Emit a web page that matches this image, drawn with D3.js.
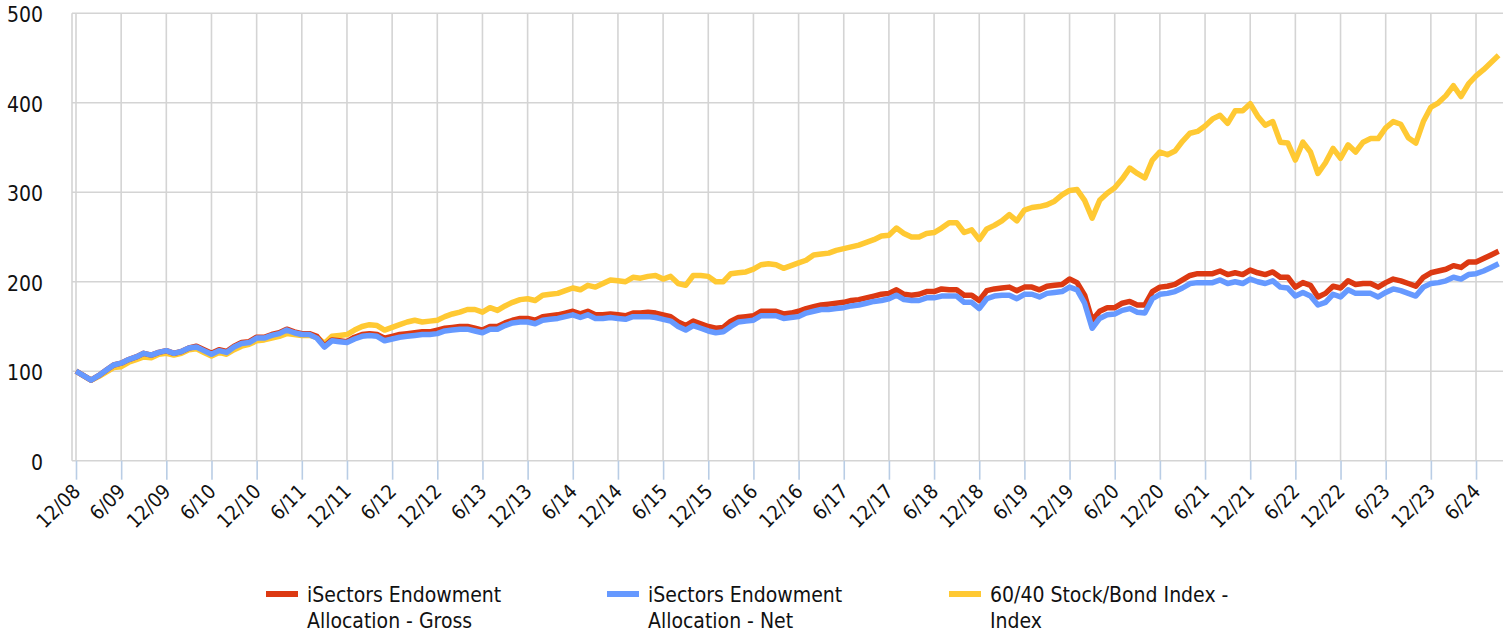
<!DOCTYPE html>
<html>
<head>
<meta charset="utf-8">
<script src="https://cdn.jsdelivr.net/npm/d3@7"></script>
<style>
  html, body { margin: 0; padding: 0; background: #fff; }
  svg { display: block; }
  text { font-family: "DejaVu Sans Condensed", "DejaVu Sans", sans-serif; fill: #111; }
</style>
</head>
<body>
<svg id="chart" width="1510" height="633"></svg>
<script>
// ---- DATA ----
const startMonth = "12/08";
const tickLabels = ["12/08","6/09","12/09","6/10","12/10","6/11","12/11","6/12","12/12","6/13",
  "12/13","6/14","12/14","6/15","12/15","6/16","12/16","6/17","12/17","6/18","12/18","6/19",
  "12/19","6/20","12/20","6/21","12/21","6/22","12/22","6/23","12/23","6/24"];
const yTicks = [0, 100, 200, 300, 400, 500];

const seriesNames = [
  ["iSectors Endowment", "Allocation - Gross"],
  ["iSectors Endowment", "Allocation - Net"],
  ["60/40 Stock/Bond Index -", "Index"]
];

const gross = [100,95,90,95,101,107,109,113,116,120,118,121,123,120,122,126,128,124,120,124,
  122,128,132,133,138,138,141,143,147,144,142,142,139,128,135,134,133,138,141,142,
  141,137,139,141,142,143,144,144,146,148,149,150,150,148,146,150,150,154,157,159,
  159,157,161,162,163,165,167,164,167,163,163,164,163,162,165,165,166,165,163,161,
  155,151,156,153,150,148,149,156,160,161,162,167,167,167,164,165,167,170,172,174,
  175,176,177,179,180,182,184,186,187,191,186,185,186,189,189,192,191,191,185,185,
  179,190,192,193,194,190,194,194,191,195,196,197,203,199,185,157,167,171,171,176,
  178,174,174,189,194,195,197,202,207,209,209,209,212,208,210,208,213,210,208,211,
  205,205,194,199,196,183,187,195,193,201,197,198,198,194,199,203,201,198,195,205,
  210,212,214,218,216,222,222,226,230,234];

const net = [100,95,90,95,101,107,109,113,116,120,118,121,123,120,122,126,127,123,119,123,
  121,127,131,132,137,137,140,142,146,143,141,141,137,127,134,133,132,136,139,140,
  139,134,136,138,139,140,141,141,142,145,146,147,147,145,143,147,147,151,154,155,
  155,153,157,158,159,161,163,160,163,159,159,160,159,158,161,161,161,160,158,156,
  150,146,151,148,145,143,144,150,155,156,157,162,162,162,159,160,161,165,167,169,
  169,170,171,173,174,176,178,179,181,185,180,179,179,182,182,184,184,184,177,177,
  170,181,184,185,185,181,186,186,183,187,188,189,194,191,176,148,159,163,164,168,
  170,166,165,181,186,187,189,193,198,199,199,199,202,198,200,198,203,200,198,201,
  194,193,184,188,184,174,177,186,183,191,187,187,187,183,188,192,190,187,184,194,
  198,199,201,205,203,208,209,212,216,220];

const index6040 = [100,95,90,94,99,104,105,110,113,116,115,119,120,118,120,124,125,121,117,121,
  119,124,128,130,134,135,137,139,142,141,140,140,138,131,139,140,141,146,150,152,
  151,146,149,152,155,157,155,156,157,161,164,166,169,169,166,171,168,173,177,180,
  181,179,185,186,187,190,193,191,196,194,198,202,201,200,205,204,206,207,203,206,
  198,196,207,207,206,200,200,209,210,211,214,219,220,219,215,218,221,224,230,231,
  232,235,237,239,241,244,247,251,252,260,254,250,250,254,255,260,266,266,255,258,
  247,259,263,268,275,268,280,283,284,286,290,297,302,303,291,271,291,299,305,315,
  327,321,316,336,345,342,346,357,366,368,374,382,386,377,391,391,399,385,375,379,
  356,355,336,356,345,321,333,349,338,353,345,356,360,360,372,379,376,361,355,379,
  395,400,408,419,407,421,430,437,445,453];

const colors = ["#dc3912", "#6699ff", "#ffc933"];

// ---- CHART ----
const svg = d3.select("#chart");
const plotLeft = 72, plotRight = 1503, plotTop = 13.3, plotBottom = 460.7;

// month categories from the start month
const parseM = d3.utcParse("%m/%y");
const fmtM = d3.utcFormat("%-m/%y");
const months = d3.range(gross.length).map(i => fmtM(d3.utcMonth.offset(parseM(startMonth), i)));

const x = d3.scaleLinear().domain([0, months.length - 1]).range([76, 76 + 7.527 * (months.length - 1)]);
const y = d3.scaleLinear().domain([0, 500]).range([plotBottom, plotTop]);

const gridColor = "#d4d4d4";

// horizontal gridlines
svg.append("g").selectAll("line").data(yTicks).join("line")
  .attr("x1", plotLeft).attr("x2", plotRight)
  .attr("y1", d => y(d)).attr("y2", d => y(d))
  .attr("stroke", gridColor).attr("stroke-width", 1.6);

// vertical gridlines
const tickIdx = tickLabels.map(l => months.indexOf(l));
svg.append("g").selectAll("line").data(tickIdx).join("line")
  .attr("x1", d => x(d)).attr("x2", d => x(d))
  .attr("y1", plotTop).attr("y2", plotBottom)
  .attr("stroke", gridColor).attr("stroke-width", 1.6);

// left border
svg.append("line").attr("x1", plotLeft).attr("x2", plotLeft)
  .attr("y1", plotTop).attr("y2", plotBottom)
  .attr("stroke", gridColor).attr("stroke-width", 1.6);

// x axis
const xAxis = d3.axisBottom(x).tickValues(tickIdx).tickFormat(d => months[d]).tickSize(19).tickPadding(0);
const gx = svg.append("g").attr("transform", `translate(0,${plotBottom})`).call(xAxis);
gx.select(".domain").remove();
gx.selectAll(".tick line").attr("stroke", "#b9cde5").attr("stroke-width", 1.6);
gx.selectAll(".tick text")
  .attr("font-size", 20)
  .attr("text-anchor", "end")
  .attr("dy", null)
  .attr("y", 0)
  .attr("transform", "translate(5,32) rotate(-45)");

// y axis
const yAxis = d3.axisLeft(y).tickValues(yTicks).tickSize(0).tickPadding(0);
const gy = svg.append("g").attr("transform", `translate(43,0)`).call(yAxis);
gy.select(".domain").remove();
gy.selectAll(".tick text").attr("font-size", 21).attr("dy", "0.4em").attr("x", 0);

// lines
const line = d3.line().x((d, i) => x(i)).y(d => y(d));
const drawOrder = [[index6040, colors[2]], [gross, colors[0]], [net, colors[1]]];
svg.append("g").selectAll("path").data(drawOrder).join("path")
  .attr("d", d => line(d[0]))
  .attr("fill", "none")
  .attr("stroke", d => d[1])
  .attr("stroke-width", 5.5)
  .attr("stroke-linejoin", "round");

// legend
const legendX = [266, 607, 949];
const lg = svg.append("g").selectAll("g").data(seriesNames).join("g")
  .attr("transform", (d, i) => `translate(${legendX[i]},594)`);
lg.append("rect").attr("x", 0).attr("y", -3).attr("width", 32).attr("height", 6)
  .attr("fill", (d, i) => colors[i]);
lg.append("text").attr("x", 41).attr("font-size", 21)
  .selectAll("tspan").data(d => d).join("tspan")
  .attr("x", 41).attr("y", (d, i) => 8 + i * 26)
  .text(d => d);
</script>
</body>
</html>
